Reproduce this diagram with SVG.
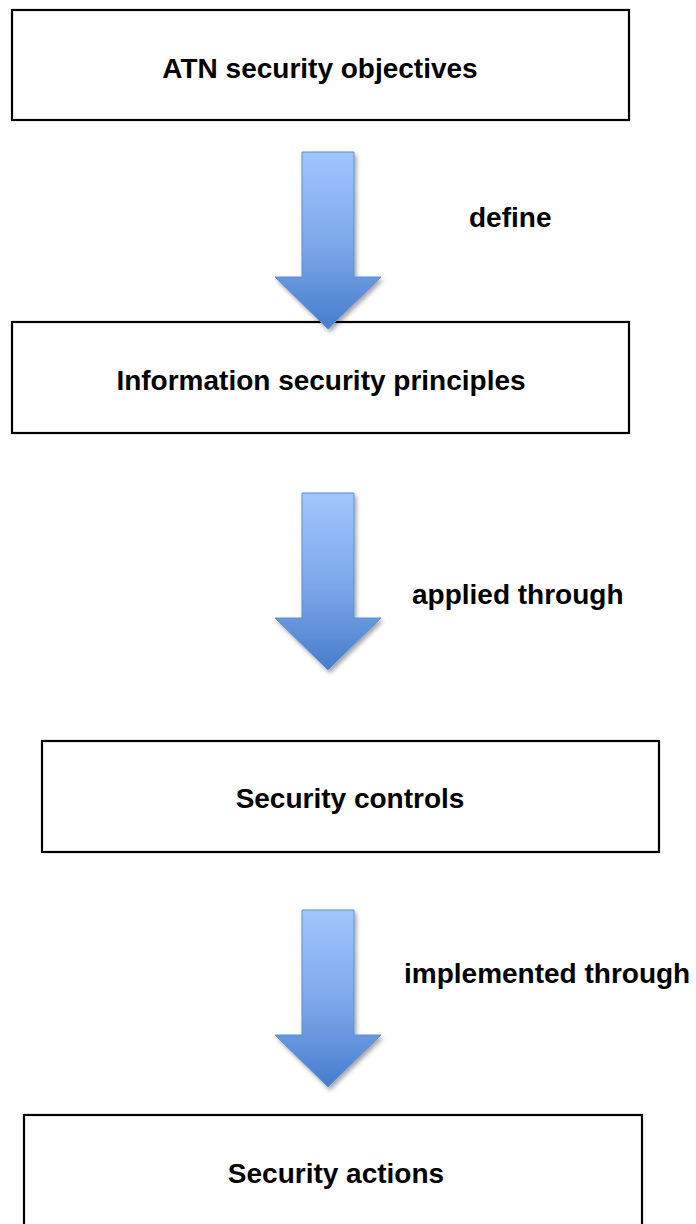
<svg xmlns="http://www.w3.org/2000/svg" width="696" height="1224" viewBox="0 0 696 1224">
<style>
.box{fill:#fff;stroke:#000;stroke-width:2.2}
.t{font-family:"Liberation Sans",Arial,sans-serif;font-weight:bold;font-size:28px;fill:#000}
.arr{fill:url(#g);stroke:#5b8fd6;stroke-width:1;filter:url(#sh)}
</style>
<defs>
<linearGradient id="g" x1="0" y1="0" x2="0" y2="1">
<stop offset="0" stop-color="#a1c6ff"/>
<stop offset="0.55" stop-color="#7aa6e8"/>
<stop offset="1" stop-color="#467ccc"/>
</linearGradient>
<filter id="sh" x="-20%" y="-10%" width="140%" height="130%">
<feDropShadow dx="2" dy="3" stdDeviation="2" flood-color="#000" flood-opacity="0.35"/>
</filter>
<path id="arrow" d="M0,0 H52 V125 H79 L26,177 L-27,125 H0 Z"/>
</defs>
<rect width="696" height="1224" fill="#fff"/>
<g id="n1"><rect class="box" x="12" y="10" width="617" height="110"/><text class="t" x="320" y="78" text-anchor="middle">ATN security objectives</text></g>
<g id="n2"><rect class="box" x="12" y="322" width="617" height="111"/><text class="t" x="321" y="390" text-anchor="middle">Information security principles</text></g>
<g id="n3"><rect class="box" x="42" y="741" width="617" height="111"/><text class="t" x="350" y="808" text-anchor="middle">Security controls</text></g>
<g id="n4"><rect class="box" x="24" y="1115" width="618" height="120"/><text class="t" x="336" y="1183" text-anchor="middle">Security actions</text></g>
<g id="connectors">
<use href="#arrow" class="arr" x="302" y="152"/>
<use href="#arrow" class="arr" x="302" y="493"/>
<use href="#arrow" class="arr" x="302" y="910"/>
<text class="t" x="469" y="227">define</text>
<text class="t" x="412" y="604">applied through</text>
<text class="t" x="404" y="983">implemented through</text>
</g>
</svg>
